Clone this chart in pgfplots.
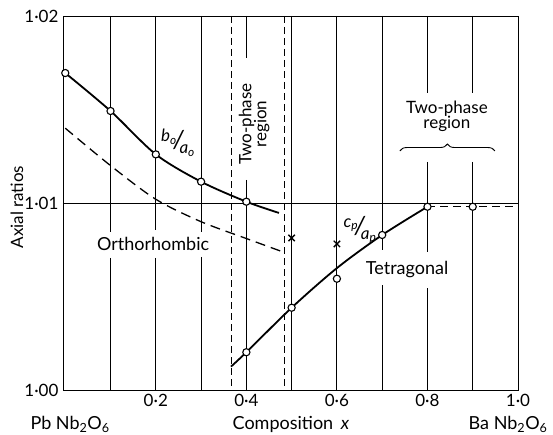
\documentclass[border=0pt]{standalone}
\usepackage{pgfplots}
\pgfplotsset{compat=1.18}
\usepackage{fontspec}
\setmainfont{Lato}
\usetikzlibrary{decorations.pathreplacing}
\begin{document}
\begin{tikzpicture}
\path[use as bounding box] (-63pt,-44pt) rectangle (490pt,390pt);
\begin{axis}[
  at={(0pt,0pt)}, anchor=south west,
  width=455pt, height=374pt, scale only axis,
  xmin=-0.005, xmax=1.0, ymin=1.0, ymax=1.02,
  clip=false, unbounded coords=jump,
  axis line style={line width=0.9pt},
  major tick length=0pt,
  xtick={0.2,0.4,0.6,0.8,1.0},
  xticklabels={0·2,0·4,0·6,0·8,1·0},
  ytick={1.00,1.01,1.02},
  yticklabels={1·00,1·01,1·02},
  ticklabel style={font=\fontsize{17}{19}\selectfont},
  yticklabel style={xshift=-1pt},
  xticklabel style={yshift=-1pt},
  grid=none,
]
% vertical grid segments
\pgfplotsset{gl/.style={black, line width=0.9pt, forget plot}}
\addplot[gl] coordinates {(0.1,1.02) (0.1,1.00845) (0.1,nan) (0.1,1.00706) (0.1,1.00)};
\addplot[gl] coordinates {(0.2,1.02) (0.2,1.00856) (0.2,nan) (0.2,1.00706) (0.2,1.00)};
\addplot[gl] coordinates {(0.3,1.02) (0.3,1.00845) (0.3,nan) (0.3,1.00712) (0.3,1.00)};
\addplot[gl] coordinates {(0.4,1.02) (0.4,1.01775) (0.4,nan) (0.4,1.01123) (0.4,1.00)};
\addplot[gl] coordinates {(0.5,1.02) (0.5,1.00)};
\addplot[gl] coordinates {(0.6,1.02) (0.6,1.00)};
\addplot[gl] coordinates {(0.7,1.02) (0.7,1.00749) (0.7,nan) (0.7,1.00561) (0.7,1.00)};
\addplot[gl] coordinates {(0.8,1.02) (0.8,1.01588) (0.8,nan) (0.8,1.0122) (0.8,1.00738) (0.8,nan) (0.8,1.00545) (0.8,1.00)};
\addplot[gl] coordinates {(0.9,1.02) (0.9,1.01588) (0.9,nan) (0.9,1.0122) (0.9,1.00)};
\addplot[gl] coordinates {(-0.005,1.01) (1.0,1.01)};
% two-phase boundaries
\addplot[black, line width=0.9pt, dash pattern=on 7pt off 4pt, forget plot] coordinates {(0.366,1.02) (0.366,1.00)};
\addplot[black, line width=0.9pt, dash pattern=on 7pt off 4pt, forget plot] coordinates {(0.485,1.02) (0.485,1.00)};
% b0/a0 curve
\addplot[black, line width=1.8pt, smooth] coordinates {(0,1.01695) (0.1,1.01492) (0.2,1.0126) (0.3,1.01114) (0.4,1.01007) (0.472,1.00947)};
% orthorhombic dashed curve
\addplot[black, line width=1.3pt, smooth, dash pattern=on 10pt off 6pt] coordinates {(0,1.0140) (0.1,1.0120) (0.2,1.0102) (0.3,1.0090) (0.4,1.0081) (0.479,1.0074)};
% tetragonal curve
\addplot[black, line width=1.8pt, smooth] coordinates {(0.366,1.00125) (0.4,1.00202) (0.5,1.0044) (0.6,1.00652) (0.7,1.00829) (0.8,1.0098)};
\addplot[black, line width=1.3pt, dash pattern=on 8pt off 5pt] coordinates {(0.8,1.0098) (1.0,1.0098)};
% measured points
\addplot[only marks, mark=*, mark size=3.6pt, mark options={fill=white, draw=black, line width=1.1pt}] coordinates {(0,1.01695) (0.1,1.01492) (0.2,1.0126) (0.3,1.01114) (0.4,1.01007)};
\addplot[only marks, mark=*, mark size=3.6pt, mark options={fill=white, draw=black, line width=1.1pt}] coordinates {(0.4,1.00202) (0.5,1.0044) (0.6,1.00595) (0.7,1.00829) (0.8,1.0098) (0.9,1.0098)};
\addplot[only marks, mark=x, mark size=4.5pt, mark options={line width=1.3pt}] coordinates {(0.5,1.00813) (0.6,1.00781)};
% annotations
\node[font=\fontsize{18}{20}\selectfont] at (axis cs:0.194,1.00781) {Orthorhombic};
\node[font=\fontsize{18}{20}\selectfont] at (axis cs:0.755,1.00642) {Tetragonal};
\node[font=\fontsize{17}{18}\selectfont, rotate=90, align=center, inner sep=0pt] at (axis cs:0.417,1.01422) {Two-phase\\[-3pt]region};
\node[font=\fontsize{17}{18}\selectfont, align=center, inner sep=0pt] at (axis cs:0.843,1.01465) {Two-phase\\[-3pt]region};
\draw[decorate, decoration={brace, amplitude=7pt}, line width=0.9pt] (axis cs:0.739,1.01278) -- (axis cs:0.949,1.01278);
\node[font=\fontsize{17}{18}\selectfont\itshape, inner sep=0pt] at (axis cs:0.249,1.01321) {\raisebox{0.4em}{b\textsubscript{o}}\kern-0.2em{\fontsize{25}{25}\selectfont/}\kern-0.25em\raisebox{-0.3em}{a\textsubscript{o}}};
\node[font=\fontsize{17}{18}\selectfont\itshape, inner sep=0pt] at (axis cs:0.651,1.00856) {\raisebox{0.4em}{c\textsubscript{p}}\kern-0.2em{\fontsize{25}{25}\selectfont/}\kern-0.25em\raisebox{-0.3em}{a\textsubscript{p}}};
% axis labels
\node[font=\fontsize{17}{19}\selectfont, rotate=90] at ([xshift=-46pt]rel axis cs:0,0.489) {Axial ratios};
\node[font=\fontsize{18}{20}\selectfont, anchor=west] at ([xshift=-36pt, yshift=-34pt]rel axis cs:0,0) {Pb Nb\textsubscript{2}O\textsubscript{6}};
\node[font=\fontsize{18}{20}\selectfont] at ([yshift=-34pt]rel axis cs:0.501,0) {Composition \,\textit{x}};
\node[font=\fontsize{18}{20}\selectfont, anchor=east] at ([xshift=33pt, yshift=-34pt]rel axis cs:1,0) {Ba Nb\textsubscript{2}O\textsubscript{6}};
\end{axis}
\end{tikzpicture}
\end{document}
